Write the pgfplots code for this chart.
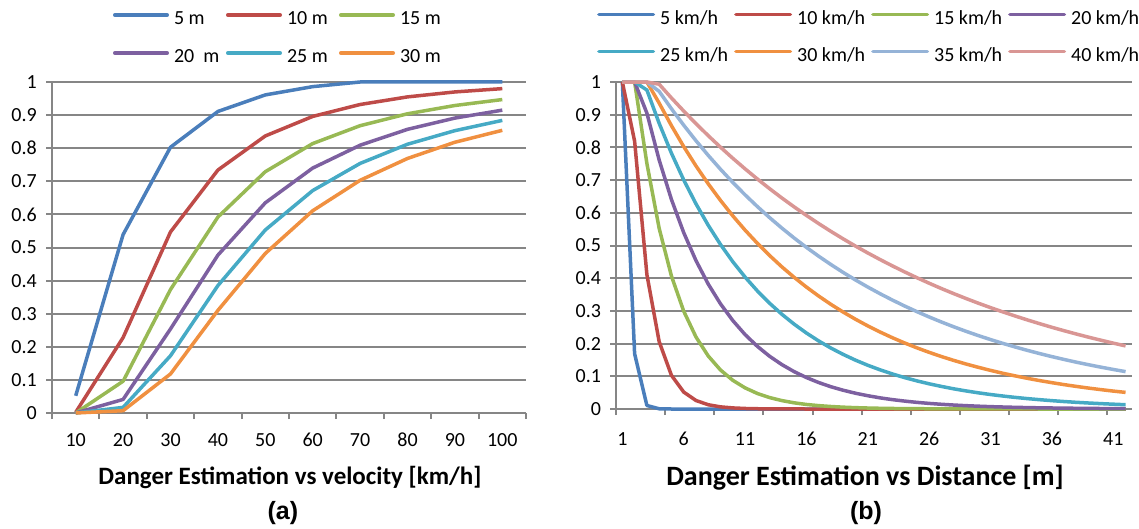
\documentclass[border=0pt]{standalone}
\usepackage{pgfplots}
\usepackage{pgfplotstable}
\pgfplotsset{compat=1.18}
\usepackage{fontspec}
\setmainfont{Carlito}
\newfontfamily\arialfont{Liberation Sans}
\definecolor{c1}{HTML}{4A7EBB}
\definecolor{c2}{HTML}{BE4B48}
\definecolor{c3}{HTML}{98B954}
\definecolor{c4}{HTML}{7D60A0}
\definecolor{c5}{HTML}{46AAC5}
\definecolor{c6}{HTML}{F09040}
\definecolor{c7}{HTML}{95B3D7}
\definecolor{c8}{HTML}{D99694}
\definecolor{gridc}{HTML}{868686}

\pgfplotstableread{
x s5 s10 s15 s20 s25 s30
1 0.052 0.002 0 0 0 0
2 0.539 0.228 0.096 0.041 0.017 0.007
3 0.803 0.547 0.373 0.254 0.173 0.118
4 0.911 0.734 0.592 0.477 0.385 0.310
5 0.961 0.837 0.729 0.635 0.553 0.482
6 0.986 0.896 0.814 0.740 0.672 0.611
7 1.000 0.932 0.868 0.809 0.754 0.703
8 1 0.955 0.904 0.857 0.812 0.769
9 1 0.970 0.929 0.891 0.853 0.818
10 1 0.980 0.947 0.915 0.884 0.854
}\tabA

\pgfplotstableread{
c a5 a10 a15 a20 a25 a30 a35 a40
1 1 1 1 1 1 1 1 1
2 0.169 0.819 1 1 1 1 1 1
3 0.0107 0.411 0.7508 0.9048 0.9755 1 1 1
4 0.0007 0.206 0.5525 0.7615 0.8736 0.9355 0.9714 0.9932
5 0 0.103 0.4066 0.6408 0.7823 0.8665 0.9182 0.9512
6 0 0.0518 0.2992 0.5393 0.7005 0.8025 0.8679 0.9111
7 0 0.026 0.2202 0.4538 0.6273 0.7433 0.8204 0.8726
8 0 0.0130 0.1620 0.3819 0.5617 0.6885 0.7755 0.8358
9 0 0.0065 0.1192 0.3214 0.5030 0.6377 0.7330 0.8005
10 0 0.0033 0.0877 0.2705 0.4504 0.5906 0.6929 0.7667
11 0 0.0016 0.0646 0.2276 0.4034 0.5470 0.6549 0.7344
12 0 0.0008 0.0475 0.1916 0.3612 0.5067 0.6191 0.7034
13 0 0.0004 0.0350 0.1612 0.3234 0.4693 0.5852 0.6737
14 0 0.0002 0.0257 0.1357 0.2896 0.4346 0.5531 0.6452
15 0 0.0001 0.0189 0.1142 0.2594 0.4026 0.5228 0.6180
16 0 0 0.0139 0.0961 0.2323 0.3728 0.4942 0.5919
17 0 0 0.0103 0.0809 0.2080 0.3453 0.4671 0.5669
18 0 0 0.0076 0.0680 0.1862 0.3198 0.4416 0.5430
19 0 0 0.0056 0.0573 0.1668 0.2962 0.4174 0.5201
20 0 0 0.0041 0.0482 0.1493 0.2744 0.3945 0.4981
21 0 0 0.0030 0.0406 0.1337 0.2541 0.3729 0.4771
22 0 0 0.0022 0.0341 0.1198 0.2354 0.3525 0.4570
23 0 0 0.0016 0.0287 0.1072 0.2180 0.3332 0.4377
24 0 0 0.0012 0.0242 0.0960 0.2019 0.3149 0.4192
25 0 0 0.0009 0.0203 0.0860 0.1870 0.2977 0.4015
26 0 0 0.0007 0.0171 0.0770 0.1732 0.2814 0.3846
27 0 0 0.0005 0.0144 0.0690 0.1604 0.2660 0.3683
28 0 0 0.0004 0.0121 0.0617 0.1486 0.2514 0.3528
29 0 0 0.0003 0.0102 0.0553 0.1376 0.2376 0.3379
30 0 0 0.0002 0.0086 0.0495 0.1275 0.2246 0.3236
31 0 0 0.0002 0.0072 0.0443 0.1181 0.2123 0.3100
32 0 0 0.0001 0.0061 0.0397 0.1093 0.2007 0.2969
33 0 0 0.0001 0.0051 0.0355 0.1013 0.1897 0.2844
34 0 0 0.0001 0.0043 0.0318 0.0938 0.1793 0.2724
35 0 0 0 0.0036 0.0285 0.0869 0.1695 0.2609
36 0 0 0 0.0031 0.0255 0.0805 0.1602 0.2498
37 0 0 0 0.0026 0.0228 0.0745 0.1514 0.2393
38 0 0 0 0.0022 0.0204 0.0690 0.1431 0.2292
39 0 0 0 0.0018 0.0183 0.0639 0.1353 0.2195
40 0 0 0 0.0015 0.0164 0.0592 0.1279 0.2103
41 0 0 0 0.0013 0.0147 0.0548 0.1209 0.2014
42 0 0 0 0.0011 0.0131 0.0508 0.1143 0.1929
}\tabB

\pgfplotsset{
  mystyle/.style={
    scale only axis, clip=false,
    ymin=0, ymax=1,
    ytick={0,0.1,0.2,0.3,0.4,0.5,0.6,0.7,0.8,0.9,1},
    yticklabels={0,0.1,0.2,0.3,0.4,0.5,0.6,0.7,0.8,0.9,1},
    ymajorgrids, grid style={gridc, line width=2pt},
    axis x line*=bottom, axis y line*=left,
    axis line style={gridc, line width=2pt, -},
    tick style={gridc, line width=2pt},
    tick align=outside, major tick length=6pt, minor tick length=6pt,
    major x tick style={draw=none},
    ticklabel style={font=\fontsize{20pt}{24pt}\selectfont, text=black},
    yticklabel style={anchor=east, inner sep=0pt, xshift=-9pt},
    every axis plot/.append style={line width=3.5pt, line join=round, no markers},
    legend style={draw=none, fill=none, inner sep=0pt, outer sep=0pt,
      anchor=north west,
      font=\fontsize{20pt}{24pt}\selectfont,
      nodes={inner sep=0pt, text height=14pt, text depth=5pt},
      /tikz/every odd column/.append style={column sep=5pt}},
    xlabel style={font=\fontsize{25pt}{30pt}\selectfont\bfseries, anchor=center},
  }
}

\begin{document}
\begin{tikzpicture}[x=1pt,y=1pt]
\useasboundingbox (0,0) rectangle (1139,528);
% ---------------- (a)
\begin{axis}[mystyle,
  at={(52pt,115pt)}, anchor=south west,
  width=474pt, height=331pt,
  xmin=0.5, xmax=10.5,
  xtick={1,2,3,4,5,6,7,8,9,10},
  xticklabels={10,20,30,40,50,60,70,80,90,100},
  minor xtick={0.5,1.5,2.5,3.5,4.5,5.5,6.5,7.5,8.5,9.5,10.5},
  xticklabel style={anchor=base, yshift=-27pt},
  legend columns=3,
  legend style={at={(0.1287,1.216)}, row sep=19pt},
  legend image code/.code={\draw[#1, line width=3.5pt, line cap=round] (1.75pt,5pt) -- (54.25pt,5pt);},
  xlabel={Danger Estimation vs velocity [km/h]},
  xlabel style={at={(axis description cs:0.502,-0.196)}},
]
\addplot[c1] table[x=x,y=s5]{\tabA};
\addlegendentry{\makebox[52pt][l]{5 m}}
\addplot[c2] table[x=x,y=s10]{\tabA};
\addlegendentry{\makebox[52pt][l]{10 m}}
\addplot[c3] table[x=x,y=s15]{\tabA};
\addlegendentry{\makebox[52pt][l]{15 m}}
\addplot[c4] table[x=x,y=s20]{\tabA};
\addlegendentry{\makebox[52pt][l]{20~ m}}
\addplot[c5] table[x=x,y=s25]{\tabA};
\addlegendentry{\makebox[52pt][l]{25 m}}
\addplot[c6] table[x=x,y=s30]{\tabA};
\addlegendentry{\makebox[52pt][l]{30 m}}
\node[font=\arialfont\bfseries\fontsize{25pt}{30pt}\selectfont] at (axis description cs:0.487,-0.302) {(a)};
\end{axis}
% ---------------- (b)
\begin{axis}[mystyle,
  at={(616.2pt,119pt)}, anchor=south west,
  width=515.5pt, height=327pt,
  xmin=0.5, xmax=42.5,
  xtick={1,6,11,16,21,26,31,36,41},
  xticklabels={1,6,11,16,21,26,31,36,41},
  minor xtick={0.5,4.5,8.5,12.5,16.5,20.5,24.5,28.5,32.5,36.5,40.5},
  xticklabel style={anchor=base, yshift=-30pt},
  legend columns=4,
  legend style={at={(-0.037,1.22)}, row sep=18pt},
  legend image code/.code={\draw[#1, line width=3.5pt, line cap=round] (1.75pt,5pt) -- (56.25pt,5pt);},
  xlabel={Danger Estimation vs Distance [m]},
  xlabel style={at={(axis description cs:0.4826,-0.211)}, font=\fontsize{28pt}{32pt}\selectfont\bfseries},
]
\addplot[c1] table[x=c,y=a5]{\tabB};
\addlegendentry{\makebox[74pt][l]{5 km/h}}
\addplot[c2] table[x=c,y=a10]{\tabB};
\addlegendentry{\makebox[74pt][l]{10 km/h}}
\addplot[c3] table[x=c,y=a15]{\tabB};
\addlegendentry{\makebox[74pt][l]{15 km/h}}
\addplot[c4] table[x=c,y=a20]{\tabB};
\addlegendentry{\makebox[74pt][l]{20 km/h}}
\addplot[c5] table[x=c,y=a25]{\tabB};
\addlegendentry{\makebox[74pt][l]{25 km/h}}
\addplot[c6] table[x=c,y=a30]{\tabB};
\addlegendentry{\makebox[74pt][l]{30 km/h}}
\addplot[c7] table[x=c,y=a35]{\tabB};
\addlegendentry{\makebox[74pt][l]{35 km/h}}
\addplot[c8] table[x=c,y=a40]{\tabB};
\addlegendentry{\makebox[74pt][l]{40 km/h}}
\node[font=\arialfont\bfseries\fontsize{25pt}{30pt}\selectfont] at (axis description cs:0.4846,-0.318) {(b)};
\end{axis}
\end{tikzpicture}
\end{document}
